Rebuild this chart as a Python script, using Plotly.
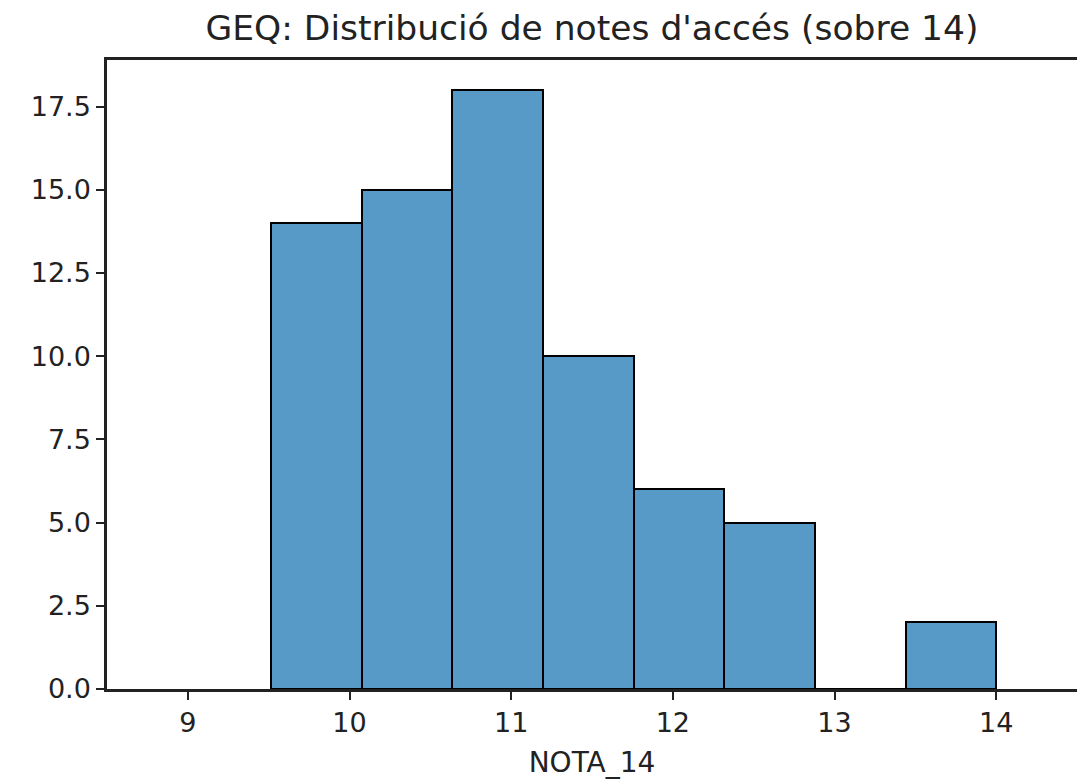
import plotly.graph_objects as go

# Histogram data
counts = [14, 15, 18, 10, 6, 5, 0, 2]
data_min = 9.516
data_max = 14.0
x_tick_vals = [9, 10, 11, 12, 13, 14]
y_tick_vals = [0, 2.5, 5, 7.5, 10, 12.5, 15, 17.5]
y_tick_text = ["0.0", "2.5", "5.0", "7.5", "10.0", "12.5", "15.0", "17.5"]

n_bins = len(counts)
bin_w = (data_max - data_min) / n_bins
centers = [data_min + (i + 0.5) * bin_w for i in range(n_bins)]

font_family = "DejaVu Sans"

fig = go.Figure(go.Bar(
    x=centers, y=counts, width=[bin_w] * n_bins,
    marker=dict(color="rgba(31,119,180,0.75)", line=dict(color="black", width=2)),
))

fig.update_layout(
    width=1077, height=782,
    margin=dict(l=107, r=0, t=60, b=93),
    paper_bgcolor="white", plot_bgcolor="white",
    showlegend=False,
    bargap=0,
    font=dict(family=font_family, color="#222222"),
    title=dict(text="GEQ: Distribució de notes d'accés (sobre 14)",
               x=(107 + 1077) / 2 / 1077, xanchor="center",
               y=1 - 28 / 782, yanchor="middle", yref="container",
               font=dict(size=34.5, family=font_family, color="#222222")),
    xaxis=dict(range=[8.5, 14.5], tickvals=x_tick_vals,
               ticks="outside", ticklen=8, tickwidth=2, tickcolor="#222222",
               showline=True, linecolor="#222222", linewidth=2.5, mirror=True,
               showgrid=False, zeroline=False,
               tickfont=dict(size=27),
               title=dict(text="NOTA_14", font=dict(size=28), standoff=16)),
    yaxis=dict(range=[0, 18.9], tickvals=y_tick_vals, ticktext=y_tick_text,
               ticks="outside", ticklen=8, tickwidth=2, tickcolor="#222222",
               showline=True, linecolor="#222222", linewidth=2.5,
               showgrid=False, zeroline=False,
               tickfont=dict(size=27)),
)

fig.write_html("out.html",
               config={"displayModeBar": False},
               post_script="document.body.style.margin='0';document.body.style.overflow='hidden';")
